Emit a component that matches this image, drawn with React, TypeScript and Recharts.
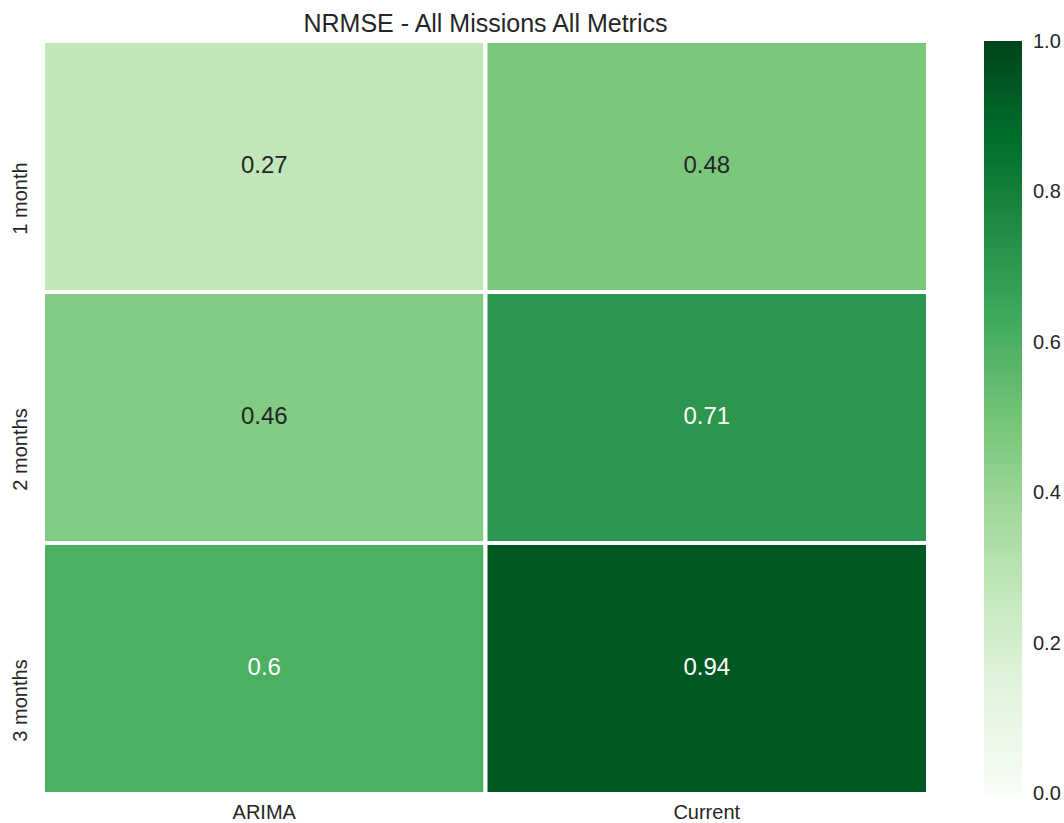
import React from 'react';
import { BarChart, Bar, XAxis, YAxis, Cell, LabelList } from 'recharts';

const rows = ['1 month', '2 months', '3 months'];
const columns = ['ARIMA', 'Current'];
const arimaValues = [0.27, 0.46, 0.6];
const currentValues = [0.48, 0.71, 0.94];
const colorbarTicks = [0, 0.2, 0.4, 0.6, 0.8, 1.0];

// matplotlib "Greens" control colours, low -> high
const greensStops = ['#f7fcf5', '#e5f5e0', '#c7e9c0', '#a1d99b', '#74c476', '#41ab5d', '#238b45', '#006d2c', '#00441b'];

const FONT = '"Liberation Sans", Arial, sans-serif';
const TEXT = '#262626';

const hexToRgb = (h: string) => [1, 3, 5].map((i) => parseInt(h.slice(i, i + 2), 16));

const greens = (v: number) => {
  const t = Math.max(0, Math.min(1, v)) * (greensStops.length - 1);
  const i = Math.min(Math.floor(t), greensStops.length - 2);
  const f = t - i;
  const a = hexToRgb(greensStops[i]);
  const b = hexToRgb(greensStops[i + 1]);
  const c = a.map((x, k) => Math.round(x + (b[k] - x) * f));
  return `rgb(${c[0]},${c[1]},${c[2]})`;
};

// each column is one unit wide on the x scale
const tableData = rows.map((row, i) => ({
  row,
  ARIMA: arimaValues[i],
  Current: currentValues[i],
  arimaSpan: 1,
  currentSpan: 1,
}));

const CellLabel = (props: any) => {
  const { x, y, width, height, value } = props;
  return (
    <text
      x={x + width / 2}
      y={y + height / 2 - 2}
      textAnchor="middle"
      dominantBaseline="central"
      fontSize={24}
      fontFamily={FONT}
      fill={value > 0.55 ? '#ffffff' : TEXT}
    >
      {value}
    </text>
  );
};

const RowTick = (props: any) => {
  const { y, payload } = props;
  const cx = 20;
  const cy = y + 32;
  return (
    <text
      x={cx}
      y={cy}
      transform={`rotate(-90, ${cx}, ${cy})`}
      textAnchor="middle"
      dominantBaseline="central"
      fontSize={20}
      fontFamily={FONT}
      fill={TEXT}
    >
      {payload.value}
    </text>
  );
};

const ColTick = (props: any) => {
  const { x, payload } = props;
  return (
    <text x={x} y={812} textAnchor="middle" dominantBaseline="central" fontSize={20} fontFamily={FONT} fill={TEXT}>
      {columns[Math.floor(payload.value)]}
    </text>
  );
};

const BarTick = (props: any) => {
  const { y, payload } = props;
  return (
    <text x={73} y={y} textAnchor="start" dominantBaseline="central" fontSize={20} fontFamily={FONT} fill={TEXT}>
      {payload.value.toFixed(1)}
    </text>
  );
};

export default function App() {
  return (
    <div style={{ position: 'absolute', left: 0, top: 0, width: 1064, height: 823, background: '#fff', fontFamily: FONT }}>
      <div
        style={{
          position: 'absolute',
          left: 0,
          top: 11,
          width: 971,
          textAlign: 'center',
          fontSize: 25,
          lineHeight: '25px',
          color: TEXT,
        }}
      >
        NRMSE - All Missions All Metrics
      </div>

      <div style={{ position: 'absolute', left: 0, top: 0 }}>
        <BarChart
          width={960}
          height={823}
          data={tableData}
          layout="vertical"
          margin={{ top: 41, right: 32, bottom: 0, left: 0 }}
          barCategoryGap={0}
        >
          <XAxis
            type="number"
            domain={[0, 2]}
            ticks={[0.5, 1.5]}
            height={29}
            axisLine={false}
            tickLine={false}
            tick={<ColTick />}
          />
          <YAxis type="category" dataKey="row" width={43} axisLine={false} tickLine={false} tick={<RowTick />} />
          <Bar dataKey="arimaSpan" stackId="h" stroke="#fff" strokeWidth={4} isAnimationActive={false}>
            {tableData.map((d) => (
              <Cell key={d.row} fill={greens(d.ARIMA)} />
            ))}
            <LabelList dataKey="ARIMA" content={<CellLabel />} />
          </Bar>
          <Bar dataKey="currentSpan" stackId="h" stroke="#fff" strokeWidth={4} isAnimationActive={false}>
            {tableData.map((d) => (
              <Cell key={d.row} fill={greens(d.Current)} />
            ))}
            <LabelList dataKey="Current" content={<CellLabel />} />
          </Bar>
        </BarChart>
      </div>

      <div style={{ position: 'absolute', left: 960, top: 0 }}>
        <BarChart
          width={104}
          height={823}
          data={[{ name: 'scale', top: 1 }]}
          margin={{ top: 41, right: 0, bottom: 30, left: 24 }}
          barCategoryGap={0}
        >
          <defs>
            <linearGradient id="greensGrad" x1="0" y1="1" x2="0" y2="0">
              {greensStops.map((c, i) => (
                <stop key={c} offset={`${(i / (greensStops.length - 1)) * 100}%`} stopColor={c} />
              ))}
            </linearGradient>
          </defs>
          <XAxis dataKey="name" hide />
          <YAxis
            orientation="right"
            type="number"
            domain={[0, 1]}
            ticks={colorbarTicks}
            width={42}
            axisLine={false}
            tickLine={false}
            tick={<BarTick />}
          />
          <Bar dataKey="top" fill="url(#greensGrad)" isAnimationActive={false} />
        </BarChart>
      </div>
    </div>
  );
}
